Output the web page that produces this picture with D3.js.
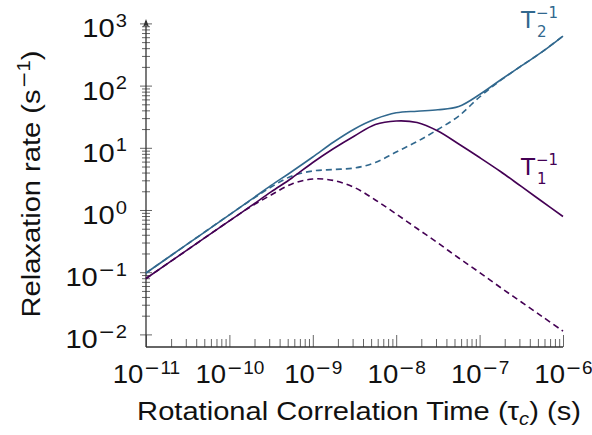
<!DOCTYPE html>
<html>
<head>
<meta charset="utf-8">
<script src="https://cdn.jsdelivr.net/npm/d3@7"></script>
<style>
  body { margin: 0; background: #fff; }
  text { font-family: "Liberation Sans", Arial, Helvetica, sans-serif; }
</style>
</head>
<body>
<svg id="chart" width="592" height="435"></svg>
<script>
// Rotational correlation times (s)
const tau = [1e-11, 3.16e-11, 1e-10, 1.78e-10, 3.16e-10, 5.62e-10, 1e-9, 1.78e-9, 3.16e-9,
             5.62e-9, 1e-8, 1.78e-8, 3.16e-8, 5.62e-8, 1e-7, 1.78e-7, 3.16e-7, 5.62e-7, 1e-6];

// Relaxation rates (1/s) at the lower field (solid lines)
const r1Solid = [0.0792, 0.230, 0.670, 1.14, 1.95, 3.27, 5.80, 9.74, 15.5,
                 23.7, 27.0, 25.5, 18.6, 11.5, 6.98, 4.16, 2.39, 1.37, 0.786];
const r2Solid = [0.097, 0.285, 0.837, 1.437, 2.48, 4.16, 7.11, 12.4, 20.1,
                 29.0, 36.5, 38.8, 40.8, 46.1, 71.9, 123, 207, 349, 627];

// Relaxation rates (1/s) at the higher field (dashed lines)
const r1Dashed = [0.0792, 0.230, 0.670, 1.12, 1.74, 2.62, 3.15, 2.98, 2.30,
                  1.45, 0.863, 0.504, 0.295, 0.169, 0.0989, 0.0568, 0.0332, 0.0194, 0.0113];
const r2Dashed = [0.097, 0.285, 0.837, 1.42, 2.34, 3.52, 4.24, 4.48, 4.73,
                  5.80, 8.56, 12.6, 19.7, 32.4, 65.6, 121, 207, 349, 627];

// Decade exponents used for the major tick labels
const xTickExps = [-11, -10, -9, -8, -7, -6];
const yTickExps = [-2, -1, 0, 1, 2, 3];

const colT1 = "#440154";
const colT2 = "#31688e";
const axisCol = "#333";
const tickCol = "#666";
const textCol = "#111";
const stretch = 1.12;      // horizontal widening of the sans-serif labels
const tickStretch = 1.06;  // a little narrower for the x tick labels so the last one fits

const svg = d3.select("#chart");

const x = d3.scaleLog().domain([1e-11, 1e-6]).range([146, 563]);
const y = d3.scaleLog().domain([Math.pow(10, -2.2026), 1e3]).range([347, 23.4]);

function minorValues(lo, hi) {
  const out = [];
  for (let e = lo; e < hi; e++)
    for (let m = 2; m <= 9; m++) out.push(m * Math.pow(10, e));
  return out;
}

// "10" followed by a raised exponent; the minus is taken from DejaVu Sans for a longer bar
function powLabel(sel, e, raise, supSize) {
  sel.text(null);
  sel.append("tspan").text("10");
  if (e < 0) {
    sel.append("tspan").attr("dy", -raise).attr("dx", 0.5).attr("font-size", supSize)
       .style("font-family", "'DejaVu Sans', sans-serif").text("\u2212");
    sel.append("tspan").attr("font-size", supSize).attr("dx", 0.5).text(String(-e));
  } else {
    sel.append("tspan").attr("dy", -raise).attr("dx", 1).attr("font-size", supSize).text(String(e));
  }
}

// ---- x axis ----
const gx = svg.append("g").attr("transform", "translate(0,347)");
gx.append("g")
  .call(d3.axisBottom(x).tickValues(minorValues(-11, -6)).tickSize(-8).tickFormat(""))
  .call(g => g.select(".domain").remove())
  .call(g => g.selectAll(".tick line").attr("stroke", tickCol).attr("stroke-width", 1));
gx.append("g")
  .call(d3.axisBottom(x).tickValues(xTickExps.map(e => Math.pow(10, e))).tickSize(-12))
  .call(g => g.select(".domain").remove())
  .call(g => g.selectAll(".tick line").attr("stroke", tickCol).attr("stroke-width", 1))
  .call(g => g.selectAll(".tick text")
     .attr("y", 35.7).attr("dy", 0).attr("fill", textCol)
     .attr("font-size", 26).attr("font-family", null)
     .attr("transform", `scale(${tickStretch},1)`)
     .each(function (d, i) { powLabel(d3.select(this), xTickExps[i], 9, 18); }));
gx.append("line").attr("x1", 146).attr("x2", 563).attr("y1", 0).attr("y2", 0)
  .attr("stroke", axisCol).attr("stroke-width", 1.3);

// ---- y axis ----
const gy = svg.append("g").attr("transform", "translate(146,0)");
gy.append("g")
  .call(d3.axisLeft(y).tickValues(minorValues(-2, 3)).tickSize(4).tickFormat(""))
  .call(g => g.select(".domain").remove())
  .call(g => g.selectAll(".tick line").attr("x1", -4).attr("x2", 4)
     .attr("stroke", tickCol).attr("stroke-width", 1));
gy.append("g")
  .call(d3.axisLeft(y).tickValues(yTickExps.map(e => Math.pow(10, e))).tickSize(6))
  .call(g => g.select(".domain").remove())
  .call(g => g.selectAll(".tick line").attr("x1", -6).attr("x2", 6)
     .attr("stroke", tickCol).attr("stroke-width", 1))
  .call(g => g.selectAll(".tick text")
     .attr("x", -19 / stretch).attr("y", 13.5).attr("dy", 0).attr("fill", textCol)
     .attr("text-anchor", "end")
     .attr("font-size", 26).attr("font-family", null)
     .attr("transform", `scale(${stretch},1)`)
     .each(function (d, i) { powLabel(d3.select(this), yTickExps[i], 10.5, 18); }));
gy.append("line").attr("x1", 0).attr("x2", 0).attr("y1", 347).attr("y2", 21)
  .attr("stroke", axisCol).attr("stroke-width", 1.3);
gy.append("path").attr("d", "M0,19 L-3,27 L0,25 L3,27 Z").attr("fill", axisCol);

// ---- curves ----
const line = d3.line()
  .x(d => x(d[0]))
  .y(d => y(d[1]))
  .curve(d3.curveCatmullRom.alpha(0.5));

const series = [
  { vals: r1Dashed, color: colT1, dash: "6,4" },
  { vals: r2Dashed, color: colT2, dash: "6,4" },
  { vals: r1Solid, color: colT1, dash: null },
  { vals: r2Solid, color: colT2, dash: null }
];
svg.append("g").selectAll("path")
  .data(series)
  .join("path")
  .attr("d", s => line(tau.map((t, i) => [t, s.vals[i]])))
  .attr("fill", "none")
  .attr("stroke", s => s.color)
  .attr("stroke-width", 1.6)
  .attr("stroke-dasharray", s => s.dash);

// ---- curve labels ----
function rateLabel(xp, yp, sub, color) {
  const g = svg.append("g").attr("fill", color);
  const font = "'DejaVu Sans', sans-serif";
  g.append("text").attr("x", xp).attr("y", yp).attr("font-size", 23)
    .style("font-family", font).text("T");
  g.append("text").attr("x", xp + 16).attr("y", yp + 8.5).attr("font-size", 15)
    .style("font-family", font).text(sub);
  g.append("text").attr("x", xp + 15).attr("y", yp - 10).attr("font-size", 15)
    .style("font-family", font).text("\u22121");
}
rateLabel(521, 28.3, "2", colT2);
rateLabel(521, 175, "1", colT1);

// ---- axis titles ----
const xt = svg.append("text")
  .attr("transform", `translate(359,420) scale(${stretch},1)`)
  .attr("text-anchor", "middle").attr("font-size", 26).attr("fill", textCol);
xt.append("tspan").text("Rotational Correlation Time (\u03c4");
xt.append("tspan").attr("font-size", 18).attr("font-style", "italic").attr("dy", 5).text("c");
xt.append("tspan").attr("dy", -5).text(") (s)");

const yt = svg.append("text")
  .attr("transform", `translate(40,184) rotate(-90) scale(${stretch},1)`)
  .attr("text-anchor", "middle").attr("font-size", 26).attr("fill", textCol);
yt.append("tspan").text("Relaxation rate (s");
yt.append("tspan").attr("font-size", 18).attr("dy", -10.5).attr("dx", 1)
  .style("font-family", "'DejaVu Sans', sans-serif").text("\u2212");
yt.append("tspan").attr("font-size", 18).text("1");
yt.append("tspan").attr("dy", 10.5).text(")");
</script>
</body>
</html>
